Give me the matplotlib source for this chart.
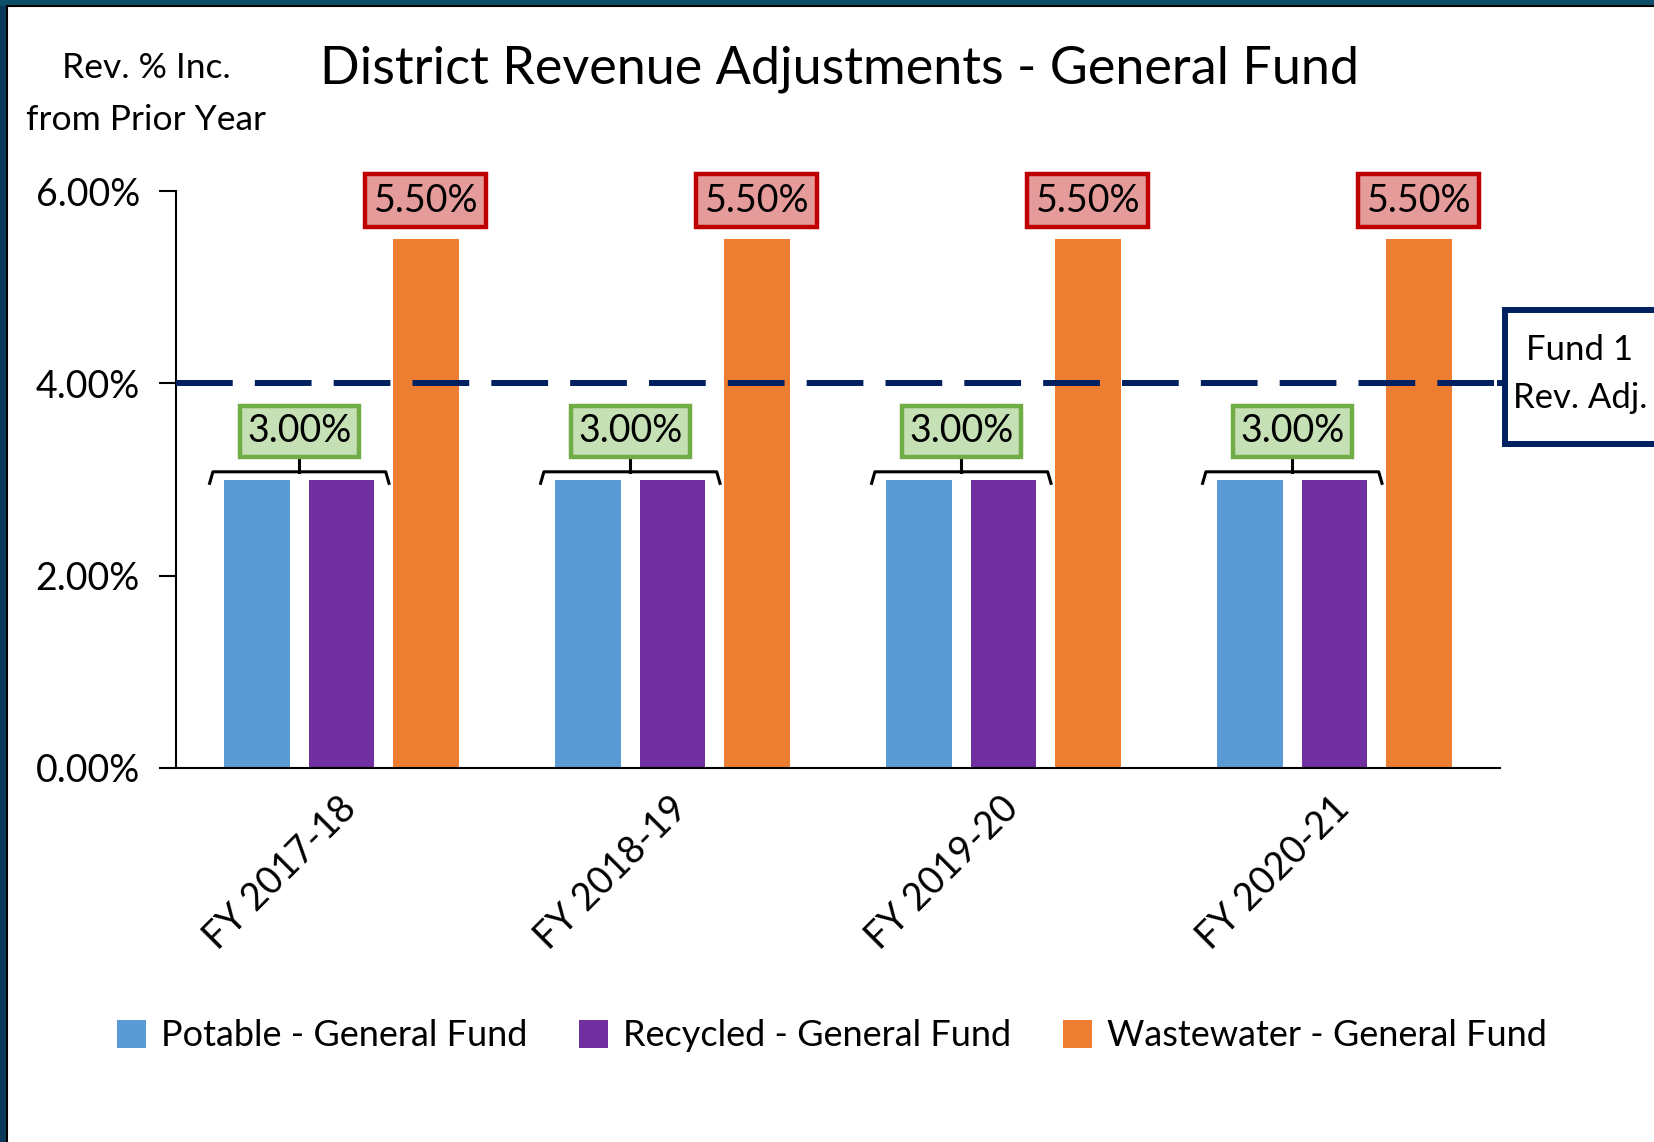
import matplotlib.pyplot as plt
import matplotlib.transforms as mtransforms
from matplotlib.patches import Rectangle
from matplotlib.lines import Line2D

plt.rcParams['font.family'] = ['Lato', 'DejaVu Sans']

# data
years = ['FY 2017-18', 'FY 2018-19', 'FY 2019-20', 'FY 2020-21']
potable = [3.00, 3.00, 3.00, 3.00]
recycled = [3.00, 3.00, 3.00, 3.00]
wastewater = [5.50, 5.50, 5.50, 5.50]
fund1_adj = 4.00
series_names = ['Potable - General Fund', 'Recycled - General Fund', 'Wastewater - General Fund']
colors = ['#5B9BD5', '#7030A0', '#ED7D31']

W, H = 1654, 1142
fig = plt.figure(figsize=(W / 100, H / 100), dpi=100)
fig.patch.set_facecolor('white')

# axes placed in pixel terms
left, right, top, bottom = 176, 1500, 191, 768
ax = fig.add_axes([left / W, 1 - bottom / H, (right - left) / W, (bottom - top) / H])

x = list(range(len(years)))
width = 0.197
step = 0.255
ax.bar([i - step for i in x], potable, width, color=colors[0], zorder=2)
ax.bar(x, recycled, width, color=colors[1], zorder=2)
ax.bar([i + step for i in x], wastewater, width, color=colors[2], zorder=2)

ax.set_xlim(-0.5, len(years) - 0.5)
ax.set_ylim(0, 6)
ax.set_yticks([0, 2, 4, 6])
ax.set_yticklabels(['%.2f%%' % v for v in [0, 2, 4, 6]], fontsize=27)
ax.tick_params(axis='y', length=12, width=1.5, pad=14)
ax.set_xticks(x)
ax.set_xticklabels(years, fontsize=27, rotation=45, ha='right', va='top',
                   rotation_mode='anchor')
ax.tick_params(axis='x', length=0, pad=16)
shift = mtransforms.ScaledTranslation(-4 / 100, 0, fig.dpi_scale_trans)
for lbl in ax.get_xticklabels():
    lbl.set_transform(lbl.get_transform() + shift)
for s in ['top', 'right']:
    ax.spines[s].set_visible(False)
ax.spines['left'].set_linewidth(1.5)
ax.spines['bottom'].set_linewidth(1.5)

# Fund 1 dashed line
ax.axhline(fund1_adj, color='#002060', lw=4.3, linestyle=(0, (9.5, 3.7)), zorder=3)
ax.plot([3.5, 3.6], [fund1_adj, fund1_adj], color='#002060', lw=4.3,
        clip_on=False, zorder=3)

# value labels
for i in x:
    ax.text(i + step, 5.90, '%.2f%%' % wastewater[i], fontsize=27, ha='center',
            va='center', zorder=5,
            bbox=dict(boxstyle='square,pad=0.22', fc='#E69B9B', ec='#C00000', lw=3.2))
    mid = i - step / 2
    ax.text(mid, 3.50, '%.2f%%' % potable[i], fontsize=27, ha='center',
            va='center', zorder=5,
            bbox=dict(boxstyle='square,pad=0.2', fc='#C5E0B4', ec='#70AD47', lw=3.2))
    # bracket
    hw = 0.271
    ax.plot([mid - hw, mid - hw + 0.01, mid + hw - 0.01, mid + hw],
            [2.96, 3.08, 3.08, 2.96], color='black', lw=2.2, clip_on=False, zorder=4)
    ax.plot([mid, mid], [3.08, 3.20], color='black', lw=2.2, zorder=4)

# Fund 1 box (figure pixel coords)
box = Rectangle((1505 / W, 1 - 444 / H), 200 / W, 134 / H, transform=fig.transFigure,
                fc='white', ec='#002060', lw=4.3, zorder=10)
fig.patches.append(box)
fig.text(1580 / W, 1 - 374 / H, 'Fund 1\nRev. Adj.', fontsize=25, ha='center',
         va='center', linespacing=1.65, zorder=11)

# titles
fig.text(839 / W, 1 - 69 / H, 'District Revenue Adjustments - General Fund',
         fontsize=37.5, ha='center', va='center')
fig.text(146 / W, 1 - 94 / H, 'Rev. % Inc.\nfrom Prior Year', fontsize=25.5,
         ha='center', va='center', linespacing=1.75)

# legend
handles = [Rectangle((0, 0), 1, 1, fc=c) for c in colors]
fig.legend(handles, series_names, loc='center', bbox_to_anchor=(0.503, 1 - 1036 / H),
           ncol=3, frameon=False, fontsize=26, handlelength=0.8, handleheight=0.8,
           handletextpad=0.4, columnspacing=1.45)

# screenshot frame on left and top
fig.patches.append(Rectangle((0, 0), 7 / W, 1, transform=fig.transFigure,
                             fc='#0B3A58', ec='none', zorder=20))
fig.patches.append(Rectangle((0, 1 - 6 / H), 1, 6 / H, transform=fig.transFigure,
                             fc='#0E4E68', ec='none', zorder=20))
fig.lines.append(Line2D([7 / W, 7 / W], [0, 1 - 6 / H], transform=fig.transFigure,
                        color='black', lw=1.5, zorder=21))
fig.lines.append(Line2D([7 / W, 1], [1 - 6 / H, 1 - 6 / H], transform=fig.transFigure,
                        color='black', lw=1.5, zorder=21))

fig.savefig('out.png', dpi=100)
